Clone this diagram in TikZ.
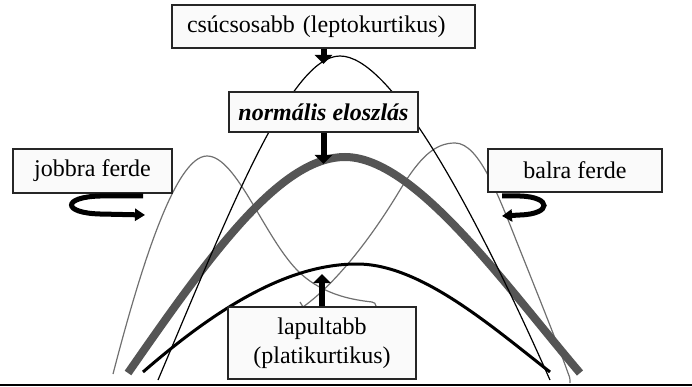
\documentclass[tikz,border=0pt]{standalone}
\usepackage{fontspec}
\setmainfont{Liberation Serif}
\usetikzlibrary{arrows.meta}
\definecolor{thickgray}{HTML}{555555}
\definecolor{thingray}{HTML}{707070}
\definecolor{boxfill}{HTML}{FAFAFA}
\tikzset{
  lbl/.style={draw=black!85, line width=1.2pt, fill=boxfill, inner sep=0pt,
    font=\fontsize{24}{29}\selectfont},
  bigarrow/.style={line width=6pt, -{Triangle[width=17pt,length=9pt]}},
  swirl/.style={line width=5pt, -{Triangle[width=12pt,length=10pt]}},
  normcurve/.style={line width=8pt, thickgray},
  leptocurve/.style={line width=1.2pt, black},
  platycurve/.style={line width=3pt, black},
  skewcurve/.style={line width=1.2pt, thingray},
}
\begin{document}
\begin{tikzpicture}[x=1pt,y=-1pt]
\useasboundingbox (0,0) rectangle (692,387);
% baseline
\draw[line width=2pt] (0,385) -- (692,385);
% skewed curves
\draw[skewcurve] (113,374) .. controls (140,270) and (175,156) .. (207,156)
  .. controls (237,156) and (265,240) .. (300,273)
  .. controls (325,296) and (355,300) .. (372,302) .. controls (375,303) .. (376,306);
\draw[skewcurve] (300,302) .. controls (301,305) .. (303,307)
  .. controls (335,284) and (370,240) .. (400,190)
  .. controls (420,157) and (435,143) .. (455,143)
  .. controls (480,143) and (500,200) .. (520,250)
  .. controls (540,300) and (560,350) .. (568,373) .. controls (570,378) .. (570,383);
% normal
\draw[normcurve] (128,373) .. controls (210,255) and (280,157) .. (345,157)
  .. controls (415,157) and (505,285) .. (580,373);
% leptokurtic
\draw[leptocurve] (158,380) .. controls (230,210) and (290,56) .. (340,56)
  .. controls (390,56) and (470,200) .. (550,380);
% platykurtic
\draw[platycurve] (143,372) .. controls (220,305) and (290,264) .. (357,264)
  .. controls (420,264) and (490,325) .. (550,372);
% boxes
\node[lbl, minimum width=303pt, minimum height=43pt, text width=273pt, inner xsep=15pt, align=left] (csucs) at (323.5,26.5) {csúcsosabb (leptokurtikus)};
\node[lbl, minimum width=189pt, minimum height=40pt, font=\fontsize{24}{29}\selectfont\bfseries\itshape] (normal) at (323.5,112) {normális eloszlás};
\node[lbl, minimum width=159pt, minimum height=44pt] (jobbra) at (92.5,171) {jobbra ferde};
\node[lbl, minimum width=174pt, minimum height=43pt] (balra) at (575,170.5) {balra ferde};
\node[lbl, minimum width=188pt, minimum height=72pt, align=center] (lapult) at (322,343) {lapultabb\\(platikurtikus)};
% arrows
\coordinate (leptop) at (323.5,64);
\coordinate (normtop) at (323.5,164);
\coordinate (platytop) at (322,274);
\draw[bigarrow] (csucs.south) -- (leptop);
\draw[bigarrow] (normal.south) -- (normtop);
\draw[bigarrow] (lapult.north) -- (platytop);
% swirls
\coordinate (js) at (143,196);
\coordinate (je) at (145,215);
\coordinate (bs) at (502,196);
\coordinate (be) at (502,216);
\draw[swirl] (js) -- (100,196) .. controls (62,197) and (62,213) .. (100,214) -- (je);
\draw[swirl] (bs) -- (520,196) .. controls (552,197) and (552,214) .. (520,215) -- (be);
\end{tikzpicture}
\end{document}
